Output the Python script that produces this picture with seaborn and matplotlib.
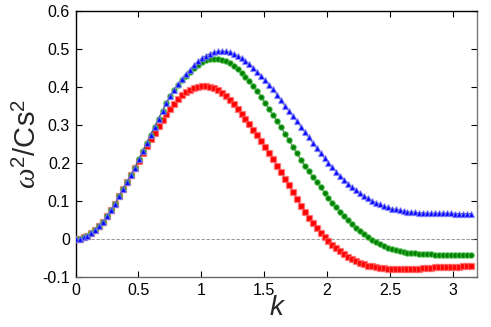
import numpy as np
import pandas as pd
import seaborn as sns
import matplotlib.pyplot as plt
from matplotlib.ticker import FormatStrFormatter

# k grid: 101 samples over [0, pi]
k = np.linspace(0, np.pi, 101)

blue = [0.000, 0.001, 0.004, 0.008, 0.015, 0.024, 0.034, 0.046, 0.060, 0.076,
        0.093, 0.112, 0.131, 0.150, 0.169, 0.188, 0.210, 0.232, 0.253, 0.275,
        0.296, 0.317, 0.338, 0.358, 0.376, 0.393, 0.408, 0.421, 0.434, 0.446,
        0.458, 0.468, 0.477, 0.483, 0.488, 0.492, 0.494, 0.495, 0.494, 0.492,
        0.488, 0.483, 0.477, 0.469, 0.461, 0.451, 0.441, 0.430, 0.418, 0.406,
        0.394, 0.380, 0.365, 0.350, 0.337, 0.324, 0.311, 0.296, 0.282, 0.268,
        0.254, 0.240, 0.227, 0.214, 0.201, 0.189, 0.177, 0.166, 0.156, 0.146,
        0.137, 0.129, 0.121, 0.114, 0.107, 0.101, 0.096, 0.091, 0.087, 0.083,
        0.080, 0.078, 0.076, 0.074, 0.072, 0.071, 0.070, 0.069, 0.069, 0.068,
        0.068, 0.068, 0.068, 0.068, 0.068, 0.068, 0.067, 0.067, 0.067, 0.067,
        0.067]

green = [0.000, 0.001, 0.004, 0.008, 0.015, 0.024, 0.034, 0.046, 0.060, 0.076,
         0.093, 0.112, 0.131, 0.150, 0.169, 0.188, 0.210, 0.232, 0.253, 0.275,
         0.296, 0.317, 0.338, 0.358, 0.376, 0.392, 0.406, 0.418, 0.430, 0.440,
         0.450, 0.458, 0.465, 0.470, 0.473, 0.474, 0.474, 0.472, 0.469, 0.464,
         0.456, 0.448, 0.438, 0.427, 0.416, 0.403, 0.389, 0.374, 0.358, 0.342,
         0.326, 0.310, 0.294, 0.277, 0.261, 0.243, 0.226, 0.209, 0.193, 0.178,
         0.164, 0.150, 0.136, 0.122, 0.109, 0.096, 0.084, 0.072, 0.061, 0.050,
         0.040, 0.030, 0.022, 0.013, 0.005, -0.002, -0.008, -0.014, -0.019, -0.023,
         -0.027, -0.030, -0.032, -0.034, -0.036, -0.037, -0.038, -0.039, -0.039, -0.040,
         -0.040, -0.041, -0.041, -0.041, -0.042, -0.042, -0.042, -0.042, -0.042, -0.042,
         -0.042]

red = [0.000, 0.001, 0.004, 0.008, 0.015, 0.024, 0.034, 0.046, 0.060, 0.076,
       0.093, 0.112, 0.131, 0.150, 0.168, 0.186, 0.206, 0.226, 0.245, 0.263,
       0.280, 0.298, 0.314, 0.329, 0.343, 0.356, 0.368, 0.378, 0.386, 0.393,
       0.398, 0.401, 0.403, 0.403, 0.401, 0.397, 0.391, 0.384, 0.376, 0.366,
       0.355, 0.343, 0.330, 0.316, 0.302, 0.288, 0.273, 0.258, 0.242, 0.226,
       0.210, 0.193, 0.176, 0.159, 0.141, 0.123, 0.106, 0.088, 0.072, 0.056,
       0.041, 0.028, 0.016, 0.005, -0.005, -0.015, -0.024, -0.032, -0.040, -0.047,
       -0.054, -0.059, -0.063, -0.067, -0.070, -0.072, -0.074, -0.076, -0.077, -0.078,
       -0.079, -0.079, -0.080, -0.080, -0.079, -0.079, -0.078, -0.078, -0.077, -0.076,
       -0.076, -0.075, -0.075, -0.074, -0.074, -0.073, -0.073, -0.073, -0.072, -0.072,
       -0.072]

x_ticks = [0, 0.5, 1, 1.5, 2, 2.5, 3]
y_ticks = [-0.1, 0, 0.1, 0.2, 0.3, 0.4, 0.5, 0.6]

sns.set_style('ticks')
plt.rcParams['font.family'] = ['Liberation Sans', 'DejaVu Sans']
plt.rcParams['mathtext.fontset'] = 'custom'
plt.rcParams['mathtext.rm'] = 'Liberation Sans'
plt.rcParams['mathtext.it'] = 'Liberation Serif:italic'

fig = plt.figure(figsize=(4.91, 3.27), dpi=100)
ax = fig.add_axes([0.154, 0.153, 0.817, 0.813])

# dashed zero reference line
ax.axhline(0, color='#888888', lw=0.6, ls=(0, (4, 2)), zorder=1)

series = [
    (red, 's', 'red', (1.0, 0.45, 0.45, 0.6), 4.0),
    (green, 'o', 'green', (0.3, 0.75, 0.3, 0.6), 4.0),
    (blue, '^', 'blue', (0.55, 0.55, 1.0, 0.6), 3.8),
]
for vals, mk, fc, ec, ms in series:
    df = pd.DataFrame({'k': k, 'w': vals})
    sns.lineplot(data=df, x='k', y='w', ax=ax, color='#555555', lw=0.8,
                 marker=mk, markersize=ms, markerfacecolor=fc,
                 markeredgecolor=ec, markeredgewidth=1.0, zorder=3)

ax.set_xlim(0, 3.19)
ax.set_ylim(-0.1, 0.6)
ax.set_xticks(x_ticks)
ax.set_yticks(y_ticks)
ax.xaxis.set_major_formatter(FormatStrFormatter('%g'))
ax.yaxis.set_major_formatter(FormatStrFormatter('%g'))
ax.tick_params(direction='in', top=True, right=True, length=4, width=0.8,
               labelsize=11.5, colors='black', pad=4)

for s in ax.spines.values():
    s.set_linewidth(1.0)
    s.set_color('black')
ax.spines['right'].set_color('#777777')
ax.spines['bottom'].set_color('#666666')

ax.set_xlabel('k', fontsize=20, fontstyle='italic', labelpad=-2)
ax.set_ylabel(r'$\omega^2$/Cs$^2$', fontsize=21, labelpad=0)

fig.savefig('out.png', dpi=100)
